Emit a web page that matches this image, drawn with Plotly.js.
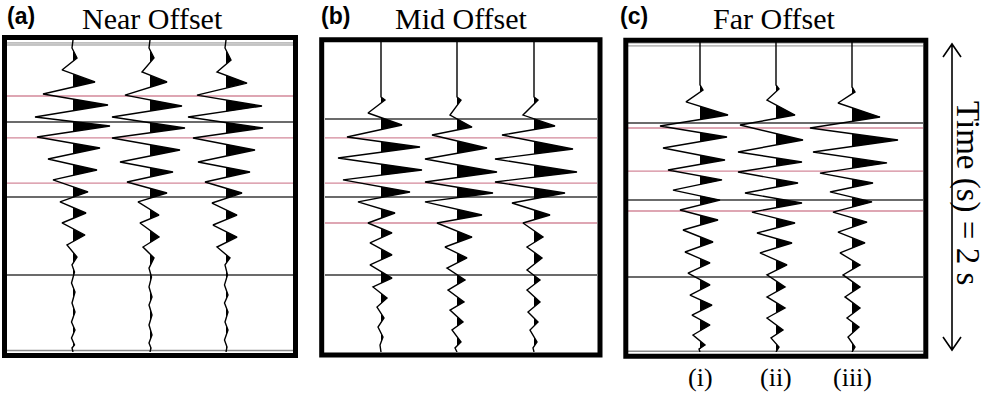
<!DOCTYPE html>
<html><head><meta charset="utf-8">
<script src="https://cdn.plot.ly/plotly-3.0.1.min.js"></script>
<style>html,body{margin:0;padding:0;background:#fff}#chart{width:989px;height:394px}</style>
</head><body><div id="chart"></div>
<script>
// ---------- DATA ----------
const panelLetters = ["(a)", "(b)", "(c)"];
const panelTitles = ["Near Offset", "Mid Offset", "Far Offset"];
const traceLabels = ["(i)", "(ii)", "(iii)"];
const timeLabel = "Time (s) = 2 s";
const totalTime = 2000; // ms

// wiggle extrema: [time (ms), amplitude]
const nearI = [[51,-1],[115,4],[192,-11],[269,22],[346,-30],[417,35],[494,-38],[551,37],[622,-36],[692,27],[763,-25],[833,24],[897,-20],[974,15],[1038,-13],[1109,13],[1173,-11],[1250,12],[1314,-6],[1391,4],[1442,-1],[1487,1.5],[1558,-1.5],[1615,2],[1686,-1],[1744,2],[1808,-1.5],[1859,2],[1910,-1.5],[1955,1.5],[1974,-1]];
const nearII = [[51,-1],[115,4],[205,-8],[269,17],[353,-25],[423,32],[494,-38],[564,35],[628,-38],[705,30],[782,-30],[846,23],[910,-23],[981,17],[1038,-12],[1122,9],[1173,-10],[1263,9],[1327,-7],[1397,4],[1462,-1],[1519,1.5],[1583,-1],[1647,2],[1699,-1],[1763,2],[1827,-1],[1891,2],[1942,-1],[1974,1]];
const nearIII = [[51,-1],[128,5],[205,-9],[276,21],[353,-29],[423,36],[494,-38],[564,37],[628,-33],[705,29],[782,-28],[846,24],[910,-21],[981,16],[1045,-14],[1122,11],[1186,-13],[1263,11],[1327,-9],[1397,4],[1442,-1],[1506,1.5],[1570,-1.5],[1635,2],[1686,-1.5],[1744,2],[1808,-1],[1859,2],[1923,-1.5],[1968,1]];

const midI = [[365,0],[385,4],[468,-13],[545,21],[622,-34],[686,39],[756,-43],[833,41],[897,-38],[974,29],[1038,-23],[1109,14],[1173,-13],[1237,11],[1301,-11],[1378,11],[1442,-11],[1526,11],[1583,-8],[1654,6],[1712,-4],[1782,3],[1840,-3],[1904,2],[1955,-1]];
const midII = [[365,0],[385,4],[481,-7],[558,15],[609,-25],[692,30],[763,-32],[846,40],[910,-32],[981,36],[1038,-32],[1122,25],[1173,-20],[1263,15],[1327,-12],[1397,10],[1462,-10],[1538,8],[1603,-9],[1679,7],[1731,-7],[1808,6],[1859,-5],[1936,4],[1974,-2]];
const midIII = [[365,0],[385,4],[481,-11],[551,21],[609,-32],[699,39],[763,-39],[846,43],[910,-39],[981,31],[1045,-22],[1122,16],[1173,-11],[1263,9],[1327,-7],[1397,8],[1474,-7],[1538,6],[1603,-7],[1679,6],[1744,-6],[1808,4],[1859,-4],[1936,3],[1974,-1]];

const farI = [[288,0],[321,3],[397,-14],[481,28],[551,-40],[622,27],[692,-37],[769,25],[833,-32],[897,22],[962,-27],[1026,20],[1090,-20],[1154,18],[1218,-17],[1295,13],[1359,-15],[1429,10],[1494,-12],[1570,10],[1635,-10],[1699,12],[1763,-8],[1827,10],[1891,-7],[1955,5],[1981,-1]];
const farII = [[288,0],[314,3],[385,-9],[481,19],[545,-36],[641,27],[718,-38],[782,26],[846,-38],[917,22],[981,-31],[1045,26],[1103,-24],[1173,19],[1237,-19],[1301,16],[1365,-16],[1442,11],[1506,-9],[1583,9],[1647,-9],[1718,9],[1782,-9],[1859,7],[1910,-5],[1968,3]];
const farIII = [[301,0],[333,3],[404,-14],[494,28],[564,-42],[641,46],[718,-39],[788,35],[853,-32],[917,21],[974,-22],[1038,20],[1103,-19],[1167,15],[1231,-14],[1301,13],[1365,-12],[1442,8],[1506,-9],[1583,8],[1647,-7],[1718,8],[1782,-5],[1840,7],[1904,-4],[1968,3]];

// horizon picks (ms)
const nearRed = [359, 628, 917];
const nearBlack = [526, 1006, 1506];
const midRed = [628, 917, 1173];
const midBlack = [506, 1006, 1506];
const farRed = [564, 840, 1096];
const farBlack = [532, 1026, 1519];

// ---------- LAYOUT / DRAWING ----------
const W = 989, H = 394;
const px = x => x / W, py = y => 1 - y / H;
const yTop = 40, yBot = 352;

const panels = [
  {traces:[nearI,nearII,nearIII], red:nearRed, black:nearBlack, dom:[7,293], rng:[-66,220], off:[0,77,153],
   box:[4.5,37.5,295.5,355.5], topGray:[19,32], botGray:[1990]},
  {traces:[midI,midII,midIII], red:midRed, black:midBlack, dom:[325,597], rng:[-56,216], off:[0,76,153],
   box:[321.7,39.7,600,355], topGray:[], botGray:[]},
  {traces:[farI,farII,farIII], red:farRed, black:farBlack, dom:[628,923], rng:[-72,223], off:[0,76,152],
   box:[625.8,40.2,925.8,356.3], topGray:[19,38], botGray:[1995]}
];

const data = [];
const shapes = [];
const layout = {
  width: W, height: H, margin:{l:0,r:0,t:0,b:0}, paper_bgcolor:'#fff', plot_bgcolor:'rgba(0,0,0,0)',
  showlegend:false, shapes: shapes, annotations: []
};

panels.forEach((p, i) => {
  const sfx = i === 0 ? '' : String(i + 1);
  const xa = 'x' + sfx, ya = 'y' + sfx;
  layout['xaxis' + sfx] = {domain:[px(p.dom[0]), px(p.dom[1])], range:p.rng, visible:false, fixedrange:true, anchor:ya};
  layout['yaxis' + sfx] = {domain:[py(yBot), py(yTop)], range:[totalTime, 0], visible:false, fixedrange:true, anchor:xa};

  const hline = (t, color, w) => shapes.push({type:'line', xref:xa + ' domain', yref:ya, x0:0, x1:1, y0:t, y1:t,
    line:{color:color, width:w}, layer:'below'});
  p.topGray.forEach(t => hline(t, '#8a8a8a', 1));
  p.botGray.forEach(t => hline(t, '#8a8a8a', 1.5));
  p.black.forEach(t => hline(t, '#3a3a3a', 1.5));
  p.red.forEach(t => hline(t, '#d3889a', 1.3));

  p.traces.forEach((ext, k) => {
    const off = p.off[k];
    const pts = [[0, 0]].concat(ext, [[totalTime, 0]]);
    // positive-lobe fill (clipped at baseline)
    const fx = [], fy = [];
    pts.forEach((pt, j) => {
      const [t, a] = pt;
      if (j > 0) {
        const [tp, ap] = pts[j - 1];
        if ((ap > 0 && a < 0) || (ap < 0 && a > 0)) {
          fx.push(off); fy.push(tp + (t - tp) * (-ap) / (a - ap));
        }
      }
      fx.push(off + Math.max(a, 0)); fy.push(t);
    });
    data.push({type:'scatter', mode:'lines', x:fx, y:fy, xaxis:xa, yaxis:ya, fill:'toself',
      fillcolor:'#000', line:{width:0, color:'#000'}, hoverinfo:'skip'});
    data.push({type:'scatter', mode:'lines', x:pts.map(q => off + q[1]), y:pts.map(q => q[0]),
      xaxis:xa, yaxis:ya, line:{color:'#000', width:1.4}, hoverinfo:'skip'});
  });

  // panel frame
  shapes.push({type:'rect', xref:'paper', yref:'paper', x0:px(p.box[0]), x1:px(p.box[2]),
    y0:py(p.box[3]), y1:py(p.box[1]), line:{color:'#000', width:5}, fillcolor:'rgba(0,0,0,0)'});
});

// labels
const serif = 'Liberation Serif, Times New Roman, serif';
const letterX = [21, 335, 634], titleX = [152, 461, 774];
panelLetters.forEach((s, i) => layout.annotations.push({text:'<b>' + s + '</b>', xref:'paper', yref:'paper',
  x:px(letterX[i]), y:py(16), showarrow:false, xanchor:'center', yanchor:'middle',
  font:{family:'Liberation Sans, Arial, sans-serif', size:23, color:'#000'}}));
panelTitles.forEach((s, i) => layout.annotations.push({text:s, xref:'paper', yref:'paper',
  x:px(titleX[i]), y:py(18), showarrow:false, xanchor:'center', yanchor:'middle',
  font:{family:serif, size:30, color:'#000'}}));
traceLabels.forEach((s, k) => layout.annotations.push({text:s, xref:'x3', yref:'paper',
  x:panels[2].off[k], y:py(377), showarrow:false, xanchor:'center', yanchor:'middle',
  font:{family:serif, size:26, color:'#000'}}));
layout.annotations.push({text:timeLabel, xref:'paper', yref:'paper', x:px(968), y:py(193), textangle:90,
  showarrow:false, xanchor:'center', yanchor:'middle',
  font:{family:serif, size:33, color:'#000'}});

// time arrow
const ax = 952, aT = 44, aB = 350;
const P = (x, y) => px(x).toFixed(5) + ',' + py(y).toFixed(5);
shapes.push({type:'path', xref:'paper', yref:'paper', line:{color:'#000', width:1.6},
  path:'M' + P(ax, aT) + 'L' + P(ax, aB) +
       'M' + P(ax - 9, aT + 13) + 'L' + P(ax, aT) + 'L' + P(ax + 9, aT + 13) +
       'M' + P(ax - 9, aB - 13) + 'L' + P(ax, aB) + 'L' + P(ax + 9, aB - 13)});

Plotly.newPlot('chart', data, layout, {staticPlot:true, displayModeBar:false});
</script></body></html>
